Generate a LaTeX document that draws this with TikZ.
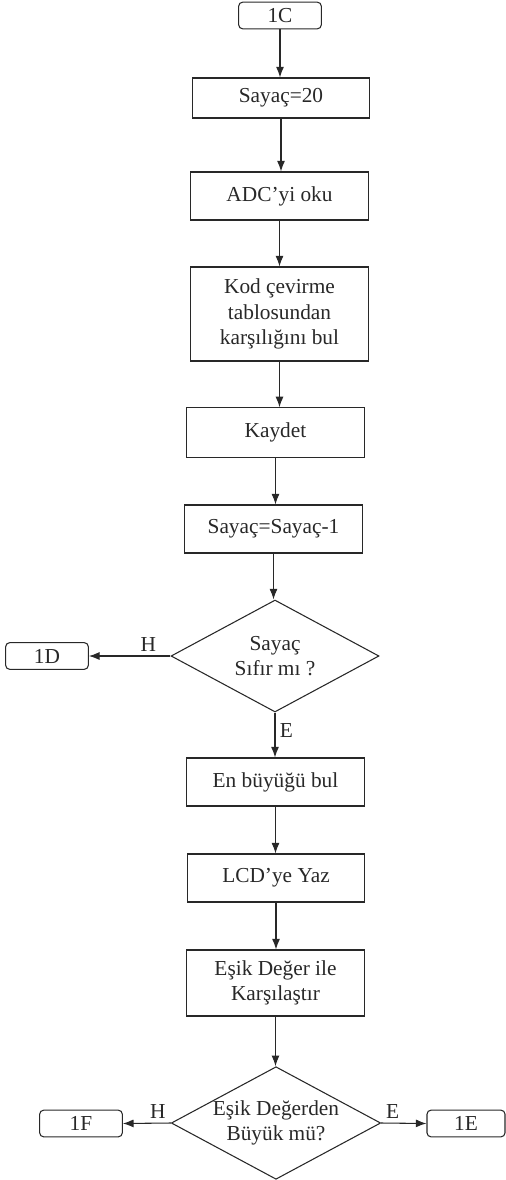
\documentclass[tikz,border=0pt]{standalone}
\usepackage{fontspec}
\setmainfont{Liberation Serif}
\usetikzlibrary{shapes.geometric,arrows.meta,positioning}
\definecolor{inkgray}{RGB}{40,40,40}
\tikzstyle{arrow} = [->,>={Latex[length=8pt,width=6pt]},line width=0.8pt,color=inkgray]
\tikzstyle{procbox} = [draw,line width=0.8pt,minimum width=133pt,align=center,inner sep=2pt]
\tikzstyle{termbox} = [draw,line width=0.8pt,rounded corners=3pt,minimum width=62pt,minimum height=20pt,inner sep=0pt]
\tikzstyle{decision} = [draw,line width=0.8pt,diamond,aspect=1.86,inner sep=0pt,minimum width=156pt,minimum height=84pt,align=center]

\begin{document}
\begin{tikzpicture}[x=0.75pt,y=-0.75pt,color=inkgray,
  every node/.style={font=\fontsize{16}{19}\selectfont}]
\useasboundingbox (0,0) rectangle (506,1180);

% main column
\node[termbox] (t1C) at (280,15.5) {1C};
\node[procbox, minimum height=30pt] (sayac20) at (281,98) {Sayaç=20};
\node[procbox, minimum height=36pt] (adc) at (279.5,196) {ADC’yi oku};
\node[procbox, minimum height=70.5pt] (kod) at (279.5,314) {Kod çevirme\\tablosundan\\karşılığını bul};
\node[procbox, minimum height=37pt] (kaydet) at (275.5,432.5) {Kaydet};
\node[procbox, minimum height=36pt] (azalt) at (273.5,529) {Sayaç=Sayaç-1};
\node[decision] (sifir) at (275,656) {Sayaç\\Sıfır mı ?};
\node[procbox, minimum height=36pt] (enbuyuk) at (275.5,782) {En büyüğü bul};
\node[procbox, minimum height=36pt] (lcd) at (276,878) {LCD’ye Yaz};
\node[procbox, minimum height=49.5pt] (karsilastir) at (275.5,983) {Eşik Değer ile\\Karşılaştır};
\node[decision] (esik) at (276,1123) {Eşik Değerden\\Büyük mü?};

% side exits
\node[termbox] (t1D) at (47,656) {1D};
\node[termbox] (t1F) at (81,1123.5) {1F};
\node[termbox, minimum width=58.5pt] (t1E) at (466,1123.5) {1E};

% connectors
\draw[arrow] (t1C) -- (t1C |- sayac20.north);
\draw[arrow] (sayac20) -- (sayac20 |- adc.north);
\draw[arrow] (adc) -- (adc |- kod.north);
\draw[arrow] (kod) -- (kod |- kaydet.north);
\draw[arrow] (kaydet) -- (kaydet |- azalt.north);
\draw[arrow] (azalt) -- (azalt |- sifir.north);
\draw[arrow] (sifir.west) -- node[above, pos=0.27] {H} (t1D.east);
\draw[arrow] (sifir.south) -- node[right, pos=0.4] {E} (sifir.south |- enbuyuk.north);
\draw[arrow] (enbuyuk) -- (enbuyuk |- lcd.north);
\draw[arrow] (lcd) -- (lcd |- karsilastir.north);
\draw[arrow] (karsilastir) -- (karsilastir |- esik.north);
\draw[arrow] (esik.west) -- node[above, pos=0.27] {H} (t1F.east);
\draw[arrow] (esik.east) -- node[above, pos=0.25] {E} (t1E.west);
\end{tikzpicture}
\end{document}
